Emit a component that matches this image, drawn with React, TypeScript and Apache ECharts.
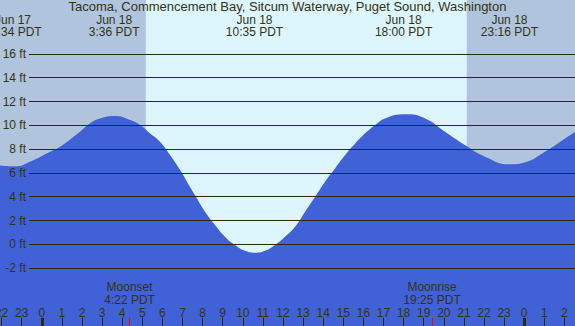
import React, { useEffect, useRef } from "react";
import * as echarts from "echarts";

const titleText = "Tacoma, Commencement Bay, Sitcum Waterway, Puget Sound, Washington";

// hours relative to Jun 18 00:00 PDT
const tideHours = [
  -2.08, -1.33, -0.59, 0.41, 0.91, 1.9, 2.4, 2.9, 3.64, 4.39, 4.89, 5.38, 5.88, 6.38, 6.88,
  7.37, 7.62, 8.12, 8.62, 9.11, 9.61, 10.11, 10.61, 11.11, 11.6, 12.1, 12.6, 13.1, 13.6,
  14.09, 14.59, 15.09, 15.59, 16.09, 16.59, 17.08, 18.07, 19.07, 20.06, 21.05, 22.05,
  23.29, 24.04, 25.03, 26.03, 26.6,
];
const tideFeet = [
  6.62, 6.55, 6.94, 7.78, 8.2, 9.46, 10.17, 10.58, 10.78, 10.45, 10.03, 9.33, 8.62, 7.5, 6.24,
  4.84, 4.14, 2.74, 1.62, 0.64, -0.06, -0.54, -0.7, -0.54, -0.06, 0.64, 1.48, 2.74, 4.0,
  5.26, 6.38, 7.5, 8.48, 9.33, 10.03, 10.58, 10.92, 10.58, 9.46, 8.34, 7.36,
  6.72, 6.89, 7.78, 8.9, 9.55,
];

const tideEventHours = [-1.433, 3.6, 10.583, 18.0, 23.267];
const tideEventDates = ["Jun 17", "Jun 18", "Jun 18", "Jun 18", "Jun 18"];
const tideEventTimes = ["22:34 PDT", "3:36 PDT", "10:35 PDT", "18:00 PDT", "23:16 PDT"];

const moonHours = [4.367, 19.417];
const moonNames = ["Moonset", "Moonrise"];
const moonTimes = ["4:22 PDT", "19:25 PDT"];

const sunrise = 5.17;
const sunset = 21.14;

const gridFeet = [-2, 0, 2, 4, 6, 8, 10, 12, 14, 16];
const midnightHours = [0, 24];

const X_MIN = -3;
const X_MAX = 27;
const Y_MIN = -7;
const Y_MAX = 21;

const TEXT = "#333311";
const LINE = "#2a2a10";
const FONT = "Liberation Sans, Arial, sans-serif";

export default function App() {
  const ref = useRef<HTMLDivElement>(null);

  useEffect(() => {
    if (!ref.current) return;
    const chart = echarts.init(ref.current, undefined, { renderer: "svg" });

    const tideData = tideHours.map((h, i) => [h, tideFeet[i]]);

    const gridLines = gridFeet.map((v) => [
      {
        coord: [-0.637, v],
        label: {
          show: true,
          position: "start",
          distance: 3,
          formatter: `${v} ft`,
          color: TEXT,
          fontSize: 12,
          fontFamily: FONT,
        },
      },
      { coord: [X_MAX, v] },
    ]);

    const midnightTicks = midnightHours.map((h) => [
      { coord: [h, Y_MIN], lineStyle: { color: LINE, width: 3 } },
      { coord: [h, -6.19] },
    ]);
    const moonTicks = moonHours.map((h) => [
      { coord: [h, Y_MIN], lineStyle: { color: "#ff0000", width: 1 } },
      { coord: [h, -6.19] },
    ]);

    const labelPts: any[] = [];
    tideEventHours.forEach((h, i) => {
      labelPts.push({ coord: [h, 18.89], value: tideEventDates[i] });
      labelPts.push({ coord: [h, 17.88], value: tideEventTimes[i] });
    });
    moonHours.forEach((h, i) => {
      labelPts.push({ coord: [h, -3.63], value: moonNames[i] });
      labelPts.push({ coord: [h, -4.64], value: moonTimes[i] });
    });

    chart.setOption({
      animation: false,
      backgroundColor: "#b0c4de",
      title: {
        text: titleText,
        left: "center",
        top: 0,
        padding: 0,
        textStyle: {
          color: TEXT,
          fontSize: 13,
          lineHeight: 13,
          fontWeight: "normal",
          fontFamily: FONT,
        },
      },
      grid: {
        left: -18.5,
        right: -9.5,
        top: -5.6,
        bottom: -1.6,
        containLabel: false,
        outerBoundsMode: "none",
      },
      xAxis: {
        type: "value",
        min: X_MIN,
        max: X_MAX,
        interval: 1,
        z: 10,
        axisLine: { show: false, onZero: false },
        splitLine: { show: false },
        axisTick: { show: true, inside: true, length: 10, lineStyle: { color: LINE, width: 1 } },
        axisLabel: {
          show: true,
          inside: true,
          margin: 9,
          color: TEXT,
          fontSize: 12,
          fontFamily: FONT,
          showMinLabel: true,
          showMaxLabel: true,
          formatter: (v: number) => String(((Math.round(v) % 24) + 24) % 24),
        },
      },
      yAxis: {
        type: "value",
        min: Y_MIN,
        max: Y_MAX,
        show: false,
        splitLine: { show: false },
      },
      series: [
        {
          type: "line",
          z: 1,
          data: [],
          markArea: {
            silent: true,
            itemStyle: { color: "#ddf6fe" },
            data: [[{ xAxis: sunrise }, { xAxis: sunset }]],
          },
        },
        {
          type: "line",
          z: 2,
          data: tideData,
          smooth: true,
          showSymbol: false,
          lineStyle: { width: 0, opacity: 0 },
          areaStyle: { color: "#4161d7", opacity: 1, origin: "start" },
          silent: true,
        },
        {
          type: "line",
          z: 3,
          data: [],
          silent: true,
          markLine: {
            silent: true,
            symbol: "none",
            lineStyle: { color: LINE, width: 1, type: "solid" },
            label: { show: false },
            data: [...gridLines, ...midnightTicks, ...moonTicks],
          },
          markPoint: {
            silent: true,
            symbol: "circle",
            symbolSize: 1,
            itemStyle: { color: "rgba(0,0,0,0)" },
            label: {
              show: true,
              position: "inside",
              color: TEXT,
              fontSize: 12,
              lineHeight: 12,
              fontFamily: FONT,
              align: "center",
              verticalAlign: "middle",
              formatter: (p: any) => p.value,
            },
            data: labelPts,
          },
        },
      ],
    });

    return () => chart.dispose();
  }, []);

  return <div ref={ref} style={{ width: 575, height: 326, position: "absolute", left: 0, top: 0 }} />;
}
